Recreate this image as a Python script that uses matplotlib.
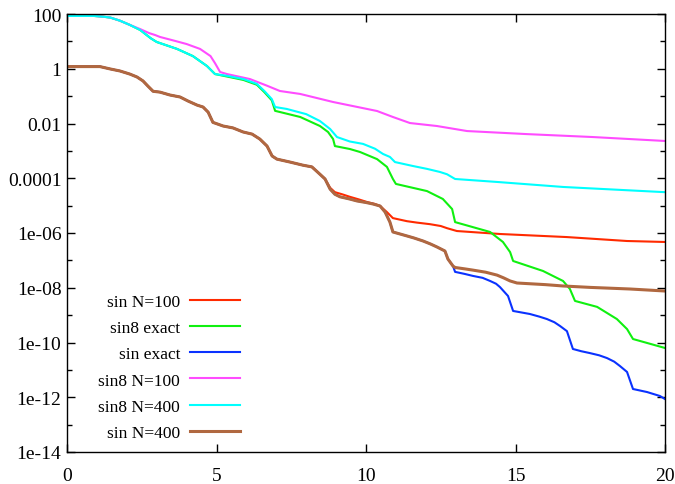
import numpy as np
import matplotlib
matplotlib.use('Agg')
import matplotlib.pyplot as plt
from matplotlib.ticker import FixedLocator, NullLocator, NullFormatter

plt.rcParams['font.family'] = ['Liberation Serif', 'DejaVu Serif']

# ---- data ----
# sin family: shared head (N=100, N=400 and exact overlap up to x~8.6)
sin_head_x = [0, 1.1, 1.45, 1.77, 2.1, 2.34, 2.54, 2.71, 2.88, 3.11, 3.44, 3.78, 4.05,
              4.35, 4.55, 4.72, 4.88, 5.22, 5.55, 5.89, 6.19, 6.45, 6.69, 6.86, 7.02,
              7.46, 7.89, 8.19, 8.46, 8.63]
sin_head_y = [1.2, 1.2, 0.98, 0.83, 0.64, 0.50, 0.36, 0.23, 0.15, 0.14, 0.11, 0.093, 0.066,
              0.047, 0.040, 0.026, 0.011, 0.0081, 0.0069, 0.0049, 0.0041, 0.0027, 0.0015, 0.00065, 0.0005,
              0.00039, 0.0003, 0.00026, 0.00014, 9.4e-5]

sin100_x = [8.8, 8.96, 9.2, 9.46, 9.75, 10.03, 10.3, 10.47, 10.7, 10.9, 11.37, 11.7, 12.14,
            12.5, 12.71, 13.04, 14.48, 16.72, 18.73, 20]
sin100_y = [4.5e-5, 3.1e-5, 2.6e-5, 2.1e-5, 1.7e-5, 1.36e-5, 1.15e-5, 9.7e-6, 5.8e-6, 3.5e-6, 2.7e-6, 2.4e-6, 2.1e-6,
            1.8e-6, 1.5e-6, 1.18e-6, 9.2e-7, 7.1e-7, 5.1e-7, 4.7e-7]

sin_mid_x = [8.8, 8.96, 9.13, 9.45, 9.7, 10.0, 10.23, 10.47, 10.64, 10.8, 10.9, 11.37, 11.6,
             11.91, 12.15, 12.37, 12.64, 12.74, 12.91]
sin_mid_y = [4.0e-5, 2.6e-5, 2.1e-5, 1.75e-5, 1.48e-5, 1.3e-5, 1.15e-5, 9.7e-6, 5.8e-6, 2.5e-6, 1.09e-6, 7.8e-7, 6.6e-7,
             5.1e-7, 4.0e-7, 3.1e-7, 2.2e-7, 1.12e-7, 6.2e-8]

sin400_x = [12.98, 13.3, 13.58, 14.0, 14.38, 14.6, 14.82, 15.05, 16.0, 16.59, 17.5, 18.83, 20]
sin400_y = [5.5e-8, 4.9e-8, 4.4e-8, 3.7e-8, 2.9e-8, 2.3e-8, 1.77e-8, 1.49e-8, 1.3e-8, 1.16e-8, 1.03e-8, 9e-9, 7.6e-9]

sinex_x = [12.98, 13.3, 13.58, 13.9, 14.15, 14.35, 14.48, 14.75, 14.92, 15.2, 15.48, 15.8, 16.05,
           16.3, 16.49, 16.72, 16.92, 17.2, 17.49, 17.8, 18.06, 18.3, 18.49, 18.73, 18.93,
           19.4, 19.83, 20]
sinex_y = [3.8e-8, 3.2e-8, 2.7e-8, 2.3e-8, 1.77e-8, 1.4e-8, 1.06e-8, 5e-9, 1.42e-9, 1.25e-9, 1.1e-9, 8.8e-10, 7.2e-10,
           5.5e-10, 4.0e-10, 2.6e-10, 5.8e-11, 4.8e-11, 4.1e-11, 3.4e-11, 2.7e-11, 2.0e-11, 1.39e-11, 8.4e-12, 2.0e-12,
           1.55e-12, 1.11e-12, 8.6e-13]

# sin8 family
s8_head_x = [0, 0.9, 1.2, 1.45, 1.77, 2.1]
s8_head_y = [85, 85, 80, 74, 57, 40]

s8n100_x = [2.45, 2.75, 2.95, 3.11, 3.6, 4.0, 4.45, 4.8, 4.95, 5.12, 5.35, 5.8, 6.12, 6.69,
            7.12, 7.8, 8.9, 10.37, 10.9, 11.47, 12.37, 13.38, 15.38, 17.59, 20]
s8n100_y = [28, 20, 17, 14.5, 10.5, 8.0, 5.3, 2.9, 1.6, 0.76, 0.64, 0.5, 0.42, 0.24,
            0.154, 0.12, 0.061, 0.0286, 0.0173, 0.0104, 0.0081, 0.0053, 0.0041, 0.0032, 0.0023]

s8_mid_x = [2.45, 2.8, 3.0, 3.68, 4.21, 4.68, 4.95]
s8_mid_y = [26, 13, 9.5, 5.3, 2.9, 1.26, 0.64]

s8n400_x = [5.35, 5.9, 6.35, 6.6, 6.85, 6.96, 7.35, 8.0, 8.46, 8.8, 9.03, 9.46, 9.9, 10.3,
            10.57, 10.8, 10.97, 11.57, 12.04, 12.47, 12.71, 12.98, 14.4, 16.6, 20]
s8n400_y = [0.55, 0.42, 0.28, 0.154, 0.078, 0.040, 0.034, 0.022, 0.0123, 0.0063, 0.0032, 0.0022, 0.0018, 0.0012,
            0.00077, 0.0006, 0.00039, 0.00028, 0.00022, 0.00017, 0.00014, 9.4e-5, 7.3e-5, 4.8e-5, 3.1e-5]

s8ex_x = [5.35, 5.9, 6.35, 6.6, 6.85, 6.96, 7.8, 8.46, 8.73, 8.9, 8.96, 9.46, 9.8, 10.37,
          10.7, 10.9, 11.0, 12.04, 12.57, 12.88, 12.98, 14.15, 14.58, 14.82, 14.92, 15.92,
          16.59, 16.82, 16.99, 17.73, 18.39, 18.73, 18.93, 20]
s8ex_y = [0.52, 0.39, 0.26, 0.14, 0.07, 0.029, 0.0173, 0.0081, 0.0049, 0.0027, 0.0015, 0.00117, 0.00091, 0.0005,
          0.00026, 9.4e-5, 6.2e-5, 3.4e-5, 1.75e-5, 7.5e-6, 2.5e-6, 1.09e-6, 4.7e-7, 2.0e-7, 9.5e-8, 4.1e-8,
          1.77e-8, 9e-9, 3.3e-9, 2.0e-9, 7.2e-10, 3.1e-10, 1.34e-10, 6.3e-11]

ytick_vals = [1e2, 1, 1e-2, 1e-4, 1e-6, 1e-8, 1e-10, 1e-12, 1e-14]
ytick_labels = ['100', '1', '0.01', '0.0001', '1e-06', '1e-08', '1e-10', '1e-12', '1e-14']
xtick_vals = [0, 5, 10, 15, 20]


# assemble series
x_red = sin_head_x + sin100_x
y_red = sin_head_y + sin100_y
x_blue = sin_head_x + sin_mid_x + sinex_x
y_blue = sin_head_y + sin_mid_y + sinex_y
x_brown = sin_head_x + sin_mid_x + sin400_x
y_brown = sin_head_y + sin_mid_y + sin400_y
x_mag = s8_head_x + s8n100_x
y_mag = s8_head_y + s8n100_y
x_cyan = s8_head_x + s8_mid_x + s8n400_x
y_cyan = s8_head_y + s8_mid_y + s8n400_y
x_green = s8_head_x + s8_mid_x + s8ex_x
y_green = s8_head_y + s8_mid_y + s8ex_y

fig = plt.figure(figsize=(6.75, 4.85), dpi=100)
ax = fig.add_axes([67/675, 1-453/485, 598/675, 438/485])

ax.plot(x_red, y_red, color='#ff2a00', lw=1.5, label='sin N=100')
ax.plot(x_green, y_green, color='#10f010', lw=1.5, label='sin8 exact')
ax.plot(x_blue, y_blue, color='#0a32ff', lw=1.5, label='sin exact')
ax.plot(x_mag, y_mag, color='#ff4cff', lw=1.5, label='sin8 N=100')
ax.plot(x_cyan, y_cyan, color='#00ffff', lw=1.5, label='sin8 N=400')
ax.plot(x_brown, y_brown, color='#b06840', lw=2.2, label='sin N=400')

ax.set_yscale('log')
ax.set_xlim(0, 20)
ax.set_ylim(1e-14, 100)
ax.yaxis.set_major_locator(FixedLocator(ytick_vals))
ax.set_yticklabels(ytick_labels)
ax.yaxis.set_minor_locator(FixedLocator([10.0**k for k in range(1, -14, -2)]))
ax.yaxis.set_minor_formatter(NullFormatter())
ax.set_xticks(xtick_vals)
ax.set_xticklabels([str(v) for v in xtick_vals])
ax.xaxis.set_minor_locator(NullLocator())

ax.tick_params(which='both', direction='in', top=True, right=True, width=1, colors='black',
               labelsize=14)
ax.tick_params(which='major', length=6)
ax.tick_params(which='minor', length=3.5)
ax.tick_params(axis='x', pad=11)
ax.tick_params(axis='y', pad=4)
for s in ax.spines.values():
    s.set_linewidth(1)

ax.legend(loc='lower right', bbox_to_anchor=((240-67)/598, (453-442)/438), frameon=False,
          markerfirst=False, fontsize=12.5, handlelength=2.9, handletextpad=0.55,
          labelspacing=0.58, borderpad=0, borderaxespad=0)

fig.savefig('out.png', dpi=100)
